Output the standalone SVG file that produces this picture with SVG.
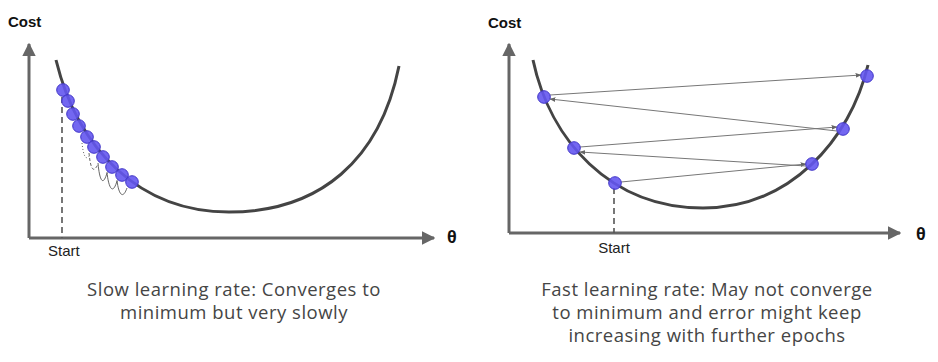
<svg xmlns="http://www.w3.org/2000/svg" width="938" height="362" viewBox="0 0 938 362">
<style>
.axis{stroke:#666;stroke-width:3;fill:none}
.curve{stroke:#444;stroke-width:3;fill:none}
.dash{stroke:#555;stroke-width:1.6;stroke-dasharray:6,4;fill:none}
.dot{fill:#6457f0;stroke:#4136c8;stroke-width:1;fill-opacity:0.9}
.lbl{font-family:"Liberation Sans",Arial,sans-serif;fill:#222}
.bold{font-weight:bold;fill:#111}
.cap{font-family:"Open Sans","Noto Sans",sans-serif;font-size:18.5px;letter-spacing:0.5px;fill:#454545;text-anchor:middle}
.jump{stroke:#777;stroke-width:1;fill:none;marker-end:url(#sm)}
.hook{stroke:#555;stroke-width:0.9;fill:none}
</style>
<defs>
<marker id="ax" viewBox="0 0 10 10" refX="9" refY="5" markerWidth="4.5" markerHeight="4.5" markerUnits="strokeWidth" orient="auto">
<path d="M0,0 L10,5 L0,10 z" fill="#666"/>
</marker>
<marker id="sm" viewBox="0 0 10 10" refX="9" refY="5" markerWidth="6" markerHeight="6" markerUnits="strokeWidth" orient="auto">
<path d="M0,1 L10,5 L0,9 z" fill="#666"/>
</marker>
</defs>
<rect width="938" height="362" fill="#fff"/>

<g id="left-panel">
<g id="left-axes">
<path class="axis" d="M29,238 V44" marker-end="url(#ax)"/>
<path class="axis" d="M29,238 H434" marker-end="url(#ax)"/>
<text class="lbl bold" x="8" y="27" font-size="15">Cost</text>
<text class="lbl bold" x="447" y="243" font-size="18">θ</text>
<text class="lbl" x="48" y="256" font-size="15">Start</text>
</g>
<path class="dash" d="M62,97 V238"/>
<path id="left-curve" class="curve" d="M56,60 C78,150 140,212 229,212 C320,212 380,160 399,66"/>
<g id="left-hooks">
<path class="hook" stroke-dasharray="1,2" d="M82,143 C83,152 85,163 90,155"/>
<path class="hook" stroke-dasharray="3,2" d="M89,153 C90,163 92,177 98,164"/>
<path class="hook" d="M98,163 C99,175 102,190 107,173"/>
<path class="hook" d="M107,172 C108,184 112,198 117,181"/>
<path class="hook" d="M117,180 C118,191 122,202 127,188"/>
</g>
<g id="left-dots">
<circle class="dot" cx="63" cy="90" r="6.3"/>
<circle class="dot" cx="68" cy="101" r="6.3"/>
<circle class="dot" cx="73" cy="114" r="6.3"/>
<circle class="dot" cx="79" cy="126" r="6.3"/>
<circle class="dot" cx="87" cy="137" r="6.3"/>
<circle class="dot" cx="94" cy="147" r="6.3"/>
<circle class="dot" cx="103" cy="157" r="6.3"/>
<circle class="dot" cx="112" cy="167" r="6.3"/>
<circle class="dot" cx="122" cy="175" r="6.3"/>
<circle class="dot" cx="132" cy="182" r="6.3"/>
</g>
<text class="cap" x="234" y="296">Slow learning rate: Converges to</text>
<text class="cap" x="234" y="319">minimum but very slowly</text>
</g>

<g id="right-panel">
<g id="right-axes">
<path class="axis" d="M509,233 V44" marker-end="url(#ax)"/>
<path class="axis" d="M509,233 H900" marker-end="url(#ax)"/>
<text class="lbl bold" x="488" y="28" font-size="15">Cost</text>
<text class="lbl bold" x="916" y="240" font-size="18">θ</text>
<text class="lbl" x="614" y="253" font-size="15" text-anchor="middle">Start</text>
</g>
<path class="dash" d="M614,188 V233"/>
<path id="right-curve" class="curve" d="M533,60 C550,140 610,208 703,208 C790,208 850,140 868,65"/>
<g id="connectors">
<path class="jump" d="M621,182 L806,164"/>
<path class="jump" d="M806,166 L580,152"/>
<path class="jump" d="M580,147 L837,127"/>
<path class="jump" d="M837,131 L550,99"/>
<path class="jump" d="M550,95 L861,75"/>
</g>
<g id="right-dots">
<circle class="dot" cx="544" cy="97" r="6.3"/>
<circle class="dot" cx="574" cy="148" r="6.3"/>
<circle class="dot" cx="615" cy="183" r="6.3"/>
<circle class="dot" cx="812" cy="164" r="6.3"/>
<circle class="dot" cx="843" cy="129" r="6.3"/>
<circle class="dot" cx="867" cy="76" r="6.3"/>
</g>
<text class="cap" x="707" y="296">Fast learning rate: May not converge</text>
<text class="cap" x="707" y="319">to minimum and error might keep</text>
<text class="cap" x="707" y="342">increasing with further epochs</text>
</g>
</svg>
